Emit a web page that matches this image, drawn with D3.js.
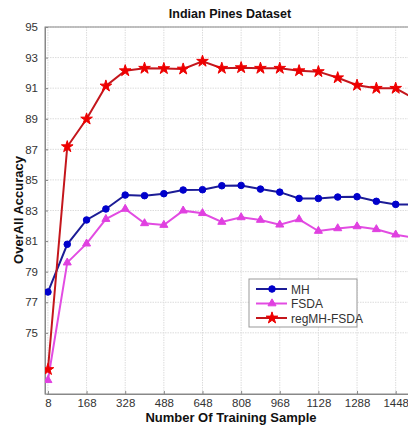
<!DOCTYPE html>
<html>
<head>
<meta charset="utf-8">
<script src="https://cdn.jsdelivr.net/npm/d3@7"></script>
<style>
  body { margin: 0; background: #fff; }
  svg { display: block; font-family: "Liberation Sans", Arial, sans-serif; }
</style>
</head>
<body>
<div id="chart"></div>
<script>
var samples = [8, 88, 168, 248, 328, 408, 488, 568, 648, 728, 808, 888, 968, 1048, 1128, 1208, 1288, 1368, 1448, 1528];
var xTicks = [8, 168, 328, 488, 648, 808, 968, 1128, 1288, 1448];
var yTicks = [75, 77, 79, 81, 83, 85, 87, 89, 91, 93, 95];

var mh = [77.67, 80.79, 82.38, 83.1, 84.01, 83.97, 84.1, 84.34, 84.36, 84.62, 84.64, 84.4, 84.2, 83.79, 83.79, 83.88, 83.9, 83.6, 83.4, 83.4];
var fsda = [71.9, 79.59, 80.83, 82.44, 83.1, 82.16, 82.05, 82.99, 82.82, 82.25, 82.55, 82.38, 82.07, 82.42, 81.66, 81.83, 81.96, 81.77, 81.42, 81.2];
var reg = [72.6, 87.17, 88.98, 91.14, 92.14, 92.3, 92.28, 92.25, 92.76, 92.3, 92.34, 92.3, 92.3, 92.14, 92.08, 91.68, 91.19, 90.99, 90.99, 90.3];

var seriesNames = ["MH", "FSDA", "regMH-FSDA"];

var width = 408, height = 425;
var pLeft = 45, pRight = 415, pTop = 27, pBottom = 394;

var svg = d3.select("#chart").append("svg")
    .attr("width", width)
    .attr("height", height);

var x = d3.scaleLinear().domain([0, 1528]).range([46, pRight]);
var y = d3.scaleLinear().domain([71, 95]).range([pBottom, pTop]);

// grid
svg.append("g").selectAll("line").data(xTicks).enter().append("line")
    .attr("x1", d => x(d)).attr("x2", d => x(d))
    .attr("y1", pTop).attr("y2", pBottom)
    .attr("stroke", "#dcdcdc").attr("stroke-width", 1)
    .attr("stroke-dasharray", "1.5,1");
svg.append("g").selectAll("line").data(yTicks).enter().append("line")
    .attr("x1", pLeft).attr("x2", pRight)
    .attr("y1", d => y(d)).attr("y2", d => y(d))
    .attr("stroke", "#dcdcdc").attr("stroke-width", 1)
    .attr("stroke-dasharray", "1.5,1");

// box
svg.append("rect")
    .attr("x", pLeft).attr("y", pTop)
    .attr("width", pRight - pLeft).attr("height", pBottom - pTop)
    .attr("fill", "none").attr("stroke", "#888").attr("stroke-width", 1);

// axes (inward ticks)
var xAxis = svg.append("g")
    .attr("transform", "translate(0," + pBottom + ")")
    .call(d3.axisBottom(x).tickValues(xTicks).tickFormat(d3.format("d"))
        .tickSizeInner(-3).tickSizeOuter(0).tickPadding(5));
var yAxis = svg.append("g")
    .attr("transform", "translate(" + pLeft + ",0)")
    .call(d3.axisLeft(y).tickValues(yTicks).tickFormat(d3.format("d"))
        .tickSizeInner(-3).tickSizeOuter(0).tickPadding(7));

[xAxis, yAxis].forEach(function (ax) {
    ax.select(".domain").attr("stroke", "#888");
    ax.selectAll(".tick line").attr("stroke", "#888");
    ax.selectAll(".tick text")
        .attr("fill", "#333")
        .style("font-size", "11.5px")
        .style("font-family", "\"Liberation Sans\", Arial, sans-serif");
});

// lines
var line = d3.line().x((d, i) => x(samples[i])).y(d => y(d));

var defs = svg.append("defs");
defs.append("clipPath").attr("id", "clip")
    .append("rect").attr("x", pLeft).attr("y", pTop - 10)
    .attr("width", pRight - pLeft).attr("height", pBottom - pTop + 20);

var plot = svg.append("g").attr("clip-path", "url(#clip)");

var styles = [
    { data: mh, line: "#1c1c96", fill: "#0000cc", shape: d3.symbolCircle, size: 34 },
    { data: fsda, line: "#e24ce2", fill: "#e040e0", shape: d3.symbolTriangle, size: 28 },
    { data: reg, line: "#c4161c", fill: "#ee0000", shape: d3.symbolStar, size: 42 }
];

styles.forEach(function (s) {
    plot.append("path")
        .attr("d", line(s.data))
        .attr("fill", "none")
        .attr("stroke", s.line)
        .attr("stroke-width", 2);
    plot.selectAll(null).data(s.data).enter().append("path")
        .attr("d", d3.symbol().type(s.shape).size(s.size))
        .attr("transform", (d, i) => "translate(" + x(samples[i]) + "," + y(d) + ")")
        .attr("fill", s.fill)
        .attr("stroke", s.fill)
        .attr("stroke-width", 1);
});

// legend
var lg = svg.append("g").attr("transform", "translate(249,279)");
lg.append("rect")
    .attr("width", 108).attr("height", 48)
    .attr("fill", "#fff").attr("stroke", "#999").attr("stroke-width", 1);
styles.forEach(function (s, i) {
    var ly = 10 + i * 14.5;
    lg.append("line")
        .attr("x1", 7).attr("x2", 38).attr("y1", ly).attr("y2", ly)
        .attr("stroke", s.line).attr("stroke-width", 2);
    lg.append("path")
        .attr("d", d3.symbol().type(s.shape).size(s.size))
        .attr("transform", "translate(23," + ly + ")")
        .attr("fill", s.fill).attr("stroke", s.fill);
    lg.append("text")
        .attr("x", 42).attr("y", ly + 4.5)
        .attr("fill", "#333")
        .style("font-size", "12px")
        .text(seriesNames[i]);
});

// title and labels
svg.append("text")
    .attr("x", 230).attr("y", 18)
    .attr("text-anchor", "middle")
    .style("font-size", "12.5px").style("font-weight", "bold")
    .attr("fill", "#111")
    .text("Indian Pines Dataset");

svg.append("text")
    .attr("x", 231).attr("y", 422)
    .attr("text-anchor", "middle")
    .style("font-size", "13px").style("font-weight", "bold")
    .attr("fill", "#111")
    .text("Number Of Training Sample");

svg.append("text")
    .attr("transform", "translate(23,210) rotate(-90)")
    .attr("text-anchor", "middle")
    .style("font-size", "13px").style("font-weight", "bold")
    .attr("fill", "#111")
    .text("OverAll Accuracy");
</script>
</body>
</html>
